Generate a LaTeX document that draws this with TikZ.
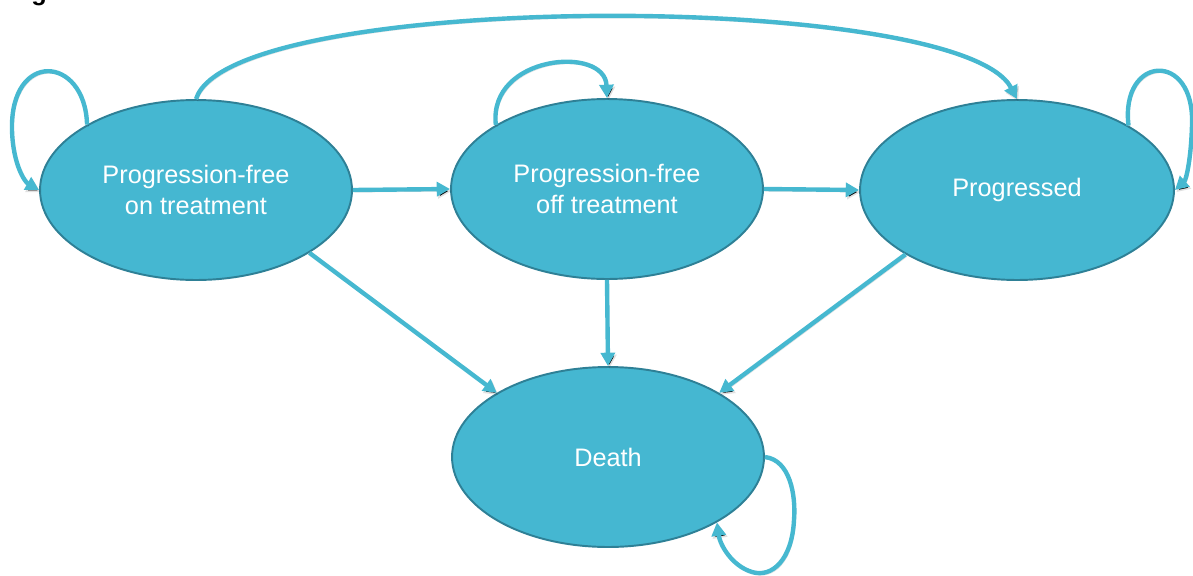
\documentclass[tikz,border=0pt]{standalone}
\usepackage{fontspec}
\setmainfont{Liberation Sans}
\usetikzlibrary{shapes.geometric,arrows.meta}
\definecolor{cfill}{RGB}{69,183,209}
\definecolor{cedge}{RGB}{46,128,150}
\definecolor{carrow}{RGB}{70,184,208}
\begin{document}
\begin{tikzpicture}[x=0.02cm,y=-0.02cm,
  state/.style={ellipse, fill=cfill, draw=cedge, line width=1.1pt,
    minimum width=6.24cm, minimum height=3.6cm, inner sep=0pt,
    text=white, align=center, font=\fontsize{14.4}{17.6}\selectfont},
  conn/.style={draw=carrow, line width=2.5pt, -{Triangle[length=7.6pt,width=8pt]},
    preaction={draw=black, draw opacity=0.12, transform canvas={shift={(0.8pt,-1.2pt)}}}}]
\clip (0,0) rectangle (1193,575);
\node[anchor=base west, inner sep=0pt, font=\bfseries\fontsize{14.4}{16}\selectfont] (fig) at (31,0) {g};
\node[state] (pfon) at (196,190) {Progression-free\\on treatment};
\node[state] (pfoff) at (607,189) {Progression-free\\off treatment};
\node[state, minimum width=6.28cm] (prog) at (1017,190) {Progressed};
\node[state] (death) at (608,457) {Death};
\draw[conn] (pfon.east) -- (pfoff.west);
\draw[conn] (pfoff.east) -- (prog.west);
\draw[conn] (pfoff.south) -- (death.north);
\draw[conn] (pfon.-29) -- (death.150);
\draw[conn] (prog.210) -- (death.30);
\draw[conn] (pfon.north) .. controls (230,-10) and (960,-10) .. (prog.north);
\draw[conn] (pfon.149) .. controls (85,55) and (10,50) .. (12,130) .. controls (13,165) and (25,182) .. (pfon.west);
\draw[conn] (pfoff.150) .. controls (488,55) and (605,45) .. (pfoff.north);
\draw[conn] (prog.30) .. controls (1120,55) and (1195,50) .. (1192,125) .. controls (1191,160) and (1186,180) .. (prog.east);
\draw[conn] (death.east) .. controls (790,460) and (796,495) .. (794,520) .. controls (792,560) and (772,578) .. (752,572) .. controls (732,566) and (720,545) .. (death.-31);
\end{tikzpicture}
\end{document}
